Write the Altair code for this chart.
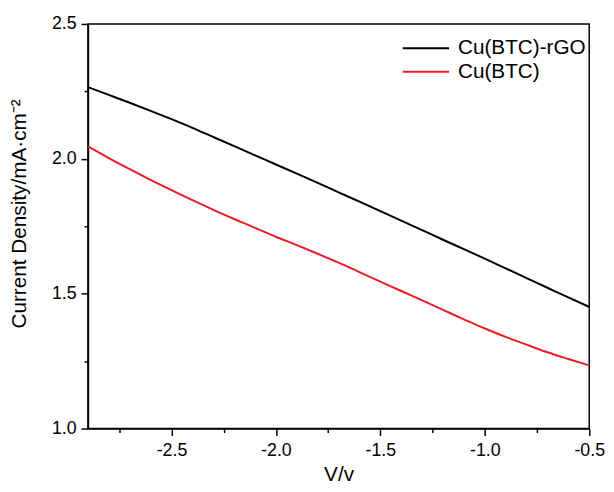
import altair as alt
import pandas as pd

voltage = [-2.9, -2.8, -2.7, -2.6, -2.5, -2.4, -2.3, -2.2, -2.1, -2.0, -1.9, -1.8, -1.7,
           -1.6, -1.5, -1.4, -1.3, -1.2, -1.1, -1.0, -0.9, -0.8, -0.7, -0.6, -0.5]
rgo_current = [2.266, 2.237, 2.208, 2.178, 2.147, 2.115, 2.081, 2.047, 2.013, 1.979, 1.945,
               1.911, 1.876, 1.841, 1.806, 1.771, 1.736, 1.700, 1.665, 1.630, 1.594, 1.558,
               1.522, 1.486, 1.451]
btc_current = [2.046, 2.003, 1.962, 1.922, 1.884, 1.847, 1.811, 1.777, 1.744, 1.711, 1.680,
               1.648, 1.615, 1.580, 1.545, 1.510, 1.475, 1.440, 1.405, 1.371, 1.340, 1.311,
               1.283, 1.258, 1.234]
series_names = ["Cu(BTC)-rGO", "Cu(BTC)"]
series_colors = ["#000000", "#ed1c24"]
x_tick_values = [-2.75, -2.5, -2.25, -2.0, -1.75, -1.5, -1.25, -1.0, -0.75, -0.5]
y_tick_values = [1.0, 1.25, 1.5, 1.75, 2.0, 2.25, 2.5]

n = len(voltage)
df = pd.DataFrame({
    "V": voltage + voltage,
    "J": rgo_current + btc_current,
    "series": [series_names[0]] * n + [series_names[1]] * n,
})

major_test = "abs(datum.value*2 - round(datum.value*2)) < 0.01"
label_expr = f"{major_test} ? replace(format(datum.value, '.1f'), '−', '-') : ''"
tick_size = {"condition": {"test": major_test, "value": 7}, "value": 4}

FONT = "Liberation Sans"

chart = alt.Chart(df).mark_line(strokeWidth=2, interpolate="monotone").encode(
    x=alt.X("V:Q", scale=alt.Scale(domain=[-2.9, -0.5], nice=False, zero=False),
            axis=alt.Axis(title="V/v", values=x_tick_values, labelExpr=label_expr,
                          tickSize=tick_size, labelFlush=False, labelOverlap=False,
                          labelPadding=6, titlePadding=5, grid=False)),
    y=alt.Y("J:Q", scale=alt.Scale(domain=[1.0, 2.5], nice=False, zero=False),
            axis=alt.Axis(title="Current Density/mA·cm⁻²", values=y_tick_values,
                          labelExpr=label_expr, tickSize=tick_size, labelOverlap=False,
                          labelPadding=5, titlePadding=22, titleY=192, grid=False)),
    color=alt.Color("series:N",
                    scale=alt.Scale(domain=series_names, range=series_colors),
                    legend=alt.Legend(title=None, orient="none", legendX=332, legendY=14,
                                      symbolType="M-2.5,0H2.5", symbolSize=353,
                                      symbolStrokeWidth=2, labelFontSize=21,
                                      labelFont=FONT, labelColor="black",
                                      rowPadding=2, labelOffset=22, padding=0)),
).properties(
    width=508, height=410,
    padding={"left": 81, "top": 13, "right": 17, "bottom": 53},
    autosize=alt.AutoSizeParams(type="none"),
).configure_view(
    stroke="black", strokeWidth=1.5
).configure_axis(
    domainColor="black", domainWidth=1.5, tickColor="black", tickWidth=1.5,
    labelFont=FONT, labelFontSize=18, labelColor="black",
    titleFont=FONT, titleFontSize=21, titleFontWeight="normal", titleColor="black",
)

chart.save("out.html", embed_options={"renderer": "svg", "actions": False})
